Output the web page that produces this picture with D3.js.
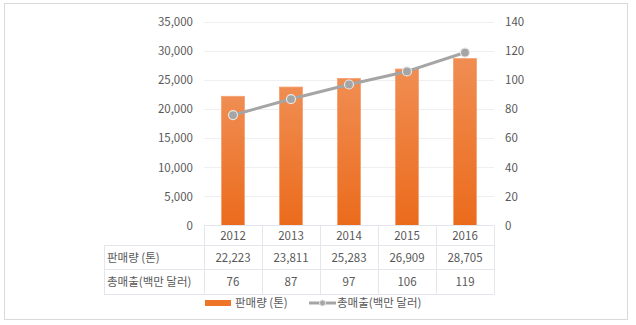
<!DOCTYPE html>
<html><head><meta charset="utf-8">
<script src="https://cdn.jsdelivr.net/npm/d3@7"></script>
<style>
body{margin:0;background:#fff;}
svg text{font-family:"Noto Sans CJK KR","Noto Sans",sans-serif;fill:#595959;}
</style></head>
<body><svg id="c" width="636" height="325"></svg>
<script>
const years = ["2012","2013","2014","2015","2016"];
const volume = [22223, 23811, 25283, 26909, 28705];
const sales = [76, 87, 97, 106, 119];
const leftTicks = [0,5000,10000,15000,20000,25000,30000,35000];
const rightTicks = [0,20,40,60,80,100,120,140];
const seriesNames = ["판매량 (톤)", "총매출(백만 달러)"];

const svg = d3.select("#c");
const fs = 11.5;
const L = 204, R = 494, T = 22, B = 225.5;

const defs = svg.append("defs");
const g = defs.append("linearGradient").attr("id","bg").attr("x1",0).attr("y1",0).attr("x2",0).attr("y2",1);
g.append("stop").attr("offset","0%").attr("stop-color","#f08d52");
g.append("stop").attr("offset","100%").attr("stop-color","#eb6b1c");

svg.append("rect").attr("x",4.5).attr("y",3.5).attr("width",623).attr("height",316)
  .attr("fill","#fff").attr("stroke","#d9d9d9");

const x = d3.scaleBand().domain(years).range([L,R]).paddingInner(0.6).paddingOuter(0.3);
const xc = d3.scaleBand().domain(years).range([L,R]);
const yL = d3.scaleLinear().domain([0,35000]).range([B,T]);
const yR = d3.scaleLinear().domain([0,140]).range([B,T]);

// gridlines
svg.append("g").selectAll("line").data(leftTicks.slice(1)).join("line")
  .attr("x1",L).attr("x2",R).attr("y1",d=>Math.round(yL(d))+0.5).attr("y2",d=>Math.round(yL(d))+0.5)
  .attr("stroke","#eeeff2").attr("stroke-width",1);

// left axis
const axL = svg.append("g").attr("transform",`translate(${L},0)`)
  .call(d3.axisLeft(yL).tickValues(leftTicks).tickFormat(d3.format(",")).tickSize(0).tickPadding(11));
axL.select(".domain").remove();
axL.selectAll("text").style("font-size",fs+"px").attr("fill","#595959");

const axR = svg.append("g").attr("transform",`translate(${R},0)`)
  .call(d3.axisRight(yR).tickValues(rightTicks).tickSize(0).tickPadding(11));
axR.select(".domain").remove();
axR.selectAll("text").style("font-size",fs+"px").attr("fill","#595959");

// bars
svg.append("g").selectAll("rect").data(years).join("rect")
  .attr("x",d=>xc(d)+xc.bandwidth()/2-11.5).attr("width",23)
  .attr("y",(d,i)=>yL(volume[i])).attr("height",(d,i)=>B-yL(volume[i]))
  .attr("fill","url(#bg)").attr("stroke","#f4a06e").attr("stroke-width",0.8);

// line
const line = d3.line().x((d,i)=>xc(years[i])+xc.bandwidth()/2).y(d=>yR(d));
svg.append("path").datum(sales).attr("d",line).attr("fill","none")
  .attr("stroke","#a5a5a5").attr("stroke-width",3).attr("stroke-linejoin","round");
svg.append("g").selectAll("circle").data(sales).join("circle")
  .attr("cx",(d,i)=>xc(years[i])+xc.bandwidth()/2).attr("cy",d=>yR(d)).attr("r",4.5)
  .attr("fill","#a5a5a5").attr("stroke","#e6e6e6").attr("stroke-width",1.2);

// table
const tc = "#e3e6ec";
const rows = [225.5, 245.5, 269.5, 294.5];
const tg = svg.append("g");
// horizontal lines
tg.append("line").attr("x1",L).attr("x2",R).attr("y1",rows[0]).attr("y2",rows[0]).attr("stroke",tc);
[1,2,3].forEach(k=>tg.append("line").attr("x1",104).attr("x2",R).attr("y1",rows[k]).attr("y2",rows[k]).attr("stroke",tc));
// vertical lines
tg.append("line").attr("x1",104.5).attr("x2",104.5).attr("y1",rows[1]).attr("y2",rows[3]).attr("stroke",tc);
years.forEach(y=>tg.append("line").attr("x1",Math.round(xc(y))+0.5).attr("x2",Math.round(xc(y))+0.5).attr("y1",rows[0]).attr("y2",rows[3]).attr("stroke",tc));
tg.append("line").attr("x1",R+0.5).attr("x2",R+0.5).attr("y1",rows[0]).attr("y2",rows[3]).attr("stroke",tc);

const cx = d=>xc(d)+xc.bandwidth()/2;
tg.selectAll("text.yr").data(years).join("text").attr("class","yr")
  .attr("x",cx).attr("y",(rows[0]+rows[1])/2).attr("dy","0.36em").attr("text-anchor","middle")
  .style("font-size",fs+"px").text(d=>d);
tg.selectAll("text.v1").data(volume).join("text").attr("class","v1")
  .attr("x",(d,i)=>cx(years[i])).attr("y",(rows[1]+rows[2])/2).attr("dy","0.36em").attr("text-anchor","middle")
  .style("font-size",fs+"px").text(d=>d3.format(",")(d));
tg.selectAll("text.v2").data(sales).join("text").attr("class","v2")
  .attr("x",(d,i)=>cx(years[i])).attr("y",(rows[2]+rows[3])/2).attr("dy","0.36em").attr("text-anchor","middle")
  .style("font-size",fs+"px").text(d=>d);
tg.append("text").attr("x",107).attr("y",(rows[1]+rows[2])/2).attr("dy","0.36em").style("font-size",fs+"px").text(seriesNames[0]);
tg.append("text").attr("x",107).attr("y",(rows[2]+rows[3])/2).attr("dy","0.36em").style("font-size",fs+"px").text(seriesNames[1]);

// legend
const lg = svg.append("g");
lg.append("rect").attr("x",205).attr("y",300).attr("width",26).attr("height",6).attr("fill","#ee7427");
lg.append("text").attr("x",235).attr("y",303).attr("dy","0.36em").style("font-size",fs+"px").text(seriesNames[0]);
lg.append("line").attr("x1",309).attr("x2",336).attr("y1",303).attr("y2",303).attr("stroke","#a5a5a5").attr("stroke-width",3);
lg.append("circle").attr("cx",322.5).attr("cy",303).attr("r",3).attr("fill","#a5a5a5").attr("stroke","#e6e6e6");
lg.append("text").attr("x",337).attr("y",303).attr("dy","0.36em").style("font-size",fs+"px").text(seriesNames[1]);
</script></body></html>
